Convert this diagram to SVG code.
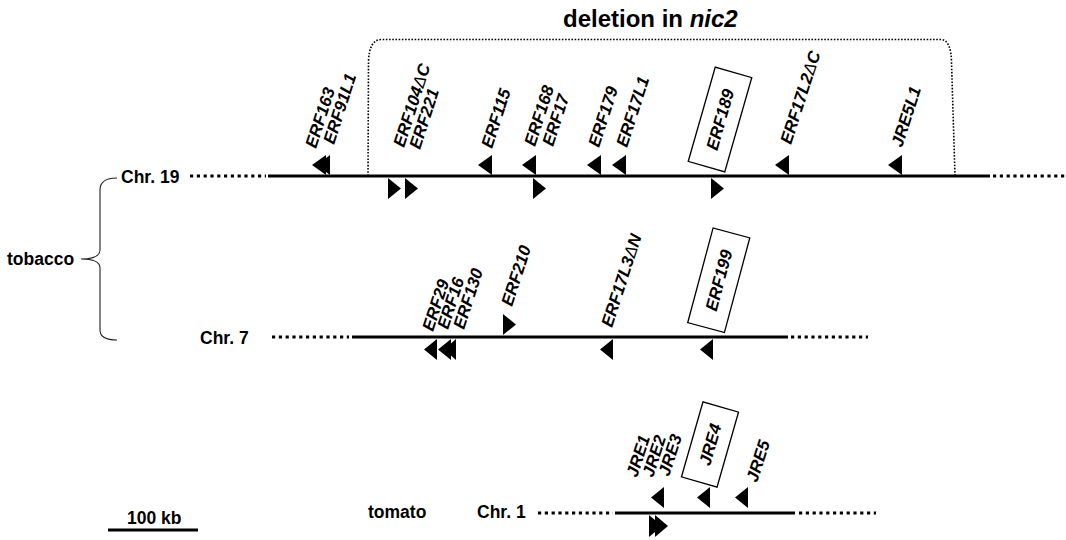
<svg xmlns="http://www.w3.org/2000/svg" width="1066" height="540" viewBox="0 0 1066 540">
<style>
.lab{font-family:"Liberation Sans",Arial,sans-serif;font-weight:bold;font-size:17.5px;fill:#000}
.gene{font-family:"Liberation Sans",Arial,sans-serif;font-weight:bold;font-style:italic;font-size:17px;fill:#000}
.d{font-weight:normal}
.solid{stroke:#000;stroke-width:3.2;fill:none}
.dots{stroke:#000;stroke-width:3;stroke-dasharray:3.2 3.6;fill:none}
.box{fill:#fff;stroke:#000;stroke-width:1.3}
.tri{fill:#000}
</style>
<rect width="1066" height="540" fill="#fff"/>
<g id="title"><text class="lab" x="563" y="27" style="font-size:24px">deletion in <tspan font-style="italic">nic2</tspan></text></g>
<g id="connectors">
<path d="M368,176 L368.5,62 Q369,40 381,39.5 L941,39.5 Q951,40 951.5,62 L955,176" fill="none" stroke="#000" stroke-width="1.6" stroke-dasharray="1.6 1.6"/>
<path d="M117,178 Q100,178 100,190 L100,250 Q100,259 81,259 Q100,259 100,268 L100,330 Q100,340 117,340" fill="none" stroke="#222" stroke-width="1.1"/>
</g>
<g id="chr19">
<text class="lab" x="121" y="183">Chr. 19</text>
<line class="dots" x1="190" y1="176" x2="266" y2="176"/>
<line class="solid" x1="268" y1="176" x2="990" y2="176"/>
<line class="dots" x1="993" y1="176" x2="1066" y2="176"/>
</g>
<g id="chr7">
<text class="lab" x="200" y="344">Chr. 7</text>
<line class="dots" x1="272" y1="337" x2="349" y2="337"/>
<line class="solid" x1="352" y1="337" x2="788" y2="337"/>
<line class="dots" x1="791" y1="337" x2="868" y2="337"/>
</g>
<g id="chr1">
<text class="lab" x="368" y="518">tomato</text>
<text class="lab" x="477" y="518">Chr. 1</text>
<line class="dots" x1="538" y1="513" x2="613" y2="513"/>
<line class="solid" x1="615" y1="513" x2="795" y2="513"/>
<line class="dots" x1="799" y1="513" x2="876" y2="513"/>
</g>
<g id="tobacco"><text class="lab" x="7" y="265">tobacco</text></g>
<g id="scale">
<text class="lab" x="127" y="524">100 kb</text>
<line class="solid" x1="108" y1="530" x2="198" y2="530" stroke-width="3.4"/>
</g>
<g id="genes19">
<polygon class="tri" points="326,155 326,175 312,165"/>
<polygon class="tri" points="330,155 330,175 317,165"/>
<polygon class="tri" points="492,155 492,175 478,165"/>
<polygon class="tri" points="536,155 536,175 522,165"/>
<polygon class="tri" points="601,155 601,175 587,165"/>
<polygon class="tri" points="626,155 626,175 612,165"/>
<polygon class="tri" points="789,155 789,175 775,165"/>
<polygon class="tri" points="902,155 902,175 888,165"/>
<polygon class="tri" points="388,178 388,199 401,188.5"/>
<polygon class="tri" points="405,178 405,199 418,188.5"/>
<polygon class="tri" points="533,178 533,199 546,188.5"/>
<polygon class="tri" points="711,178 711,199 724,188.5"/>
<text class="gene" transform="translate(316,149) rotate(-72)">ERF163</text>
<text class="gene" transform="translate(334,145) rotate(-72)">ERF91L1</text>
<text class="gene" transform="translate(404,148) rotate(-72)">ERF104<tspan class="d">Δ</tspan>C</text>
<text class="gene" transform="translate(420,150) rotate(-72)">ERF221</text>
<text class="gene" transform="translate(492,149) rotate(-72)">ERF115</text>
<text class="gene" transform="translate(535,147) rotate(-72)">ERF168</text>
<text class="gene" transform="translate(553,147) rotate(-72)">ERF17</text>
<text class="gene" transform="translate(599,148) rotate(-72)">ERF179</text>
<text class="gene" transform="translate(627,148) rotate(-72)">ERF17L1</text>
<text class="gene" transform="translate(791,145) rotate(-72)">ERF17L2<tspan class="d">Δ</tspan>C</text>
<text class="gene" transform="translate(902,148) rotate(-72)">JRE5L1</text>
<g transform="translate(720,119.5) rotate(-74)">
<rect class="box" x="-49" y="-19" width="98" height="38"/>
<text class="gene" x="0" y="6" text-anchor="middle">ERF189</text>
</g>
</g>
<g id="genes7">
<polygon class="tri" points="437,339 437,360 424,349.5"/>
<polygon class="tri" points="451,339 451,360 438,349.5"/>
<polygon class="tri" points="456,339 456,360 444,349.5"/>
<polygon class="tri" points="613,339 613,360 600,349.5"/>
<polygon class="tri" points="713,339 713,360 700,349.5"/>
<polygon class="tri" points="503,314 503,335 516,324.5"/>
<text class="gene" transform="translate(433,332) rotate(-72)">ERF29</text>
<text class="gene" transform="translate(448,330) rotate(-72)">ERF16</text>
<text class="gene" transform="translate(464,330) rotate(-72)">ERF130</text>
<text class="gene" transform="translate(512,307) rotate(-72)">ERF210</text>
<text class="gene" transform="translate(612,328) rotate(-72)">ERF17L3<tspan class="d">Δ</tspan>N</text>
<g transform="translate(718.75,280.25) rotate(-75)">
<rect class="box" x="-49" y="-19" width="98" height="38"/>
<text class="gene" x="0" y="6" text-anchor="middle">ERF199</text>
</g>
</g>
<g id="genes1">
<polygon class="tri" points="664,487 664,508 651,497.5"/>
<polygon class="tri" points="710,487 710,508 697,497.5"/>
<polygon class="tri" points="748,487 748,508 735,497.5"/>
<polygon class="tri" points="649,515 649,537 662,526"/>
<polygon class="tri" points="655,515 655,537 668,526"/>
<text class="gene" transform="translate(637,478) rotate(-72)">JRE1</text>
<text class="gene" transform="translate(653,478) rotate(-72)">JRE2</text>
<text class="gene" transform="translate(669,477) rotate(-72)">JRE3</text>
<text class="gene" transform="translate(757,483) rotate(-72)">JRE5</text>
<g transform="translate(710,444.5) rotate(-74)">
<rect class="box" x="-39" y="-18.5" width="78" height="37"/>
<text class="gene" x="0" y="6" text-anchor="middle">JRE4</text>
</g>
</g>
</svg>
